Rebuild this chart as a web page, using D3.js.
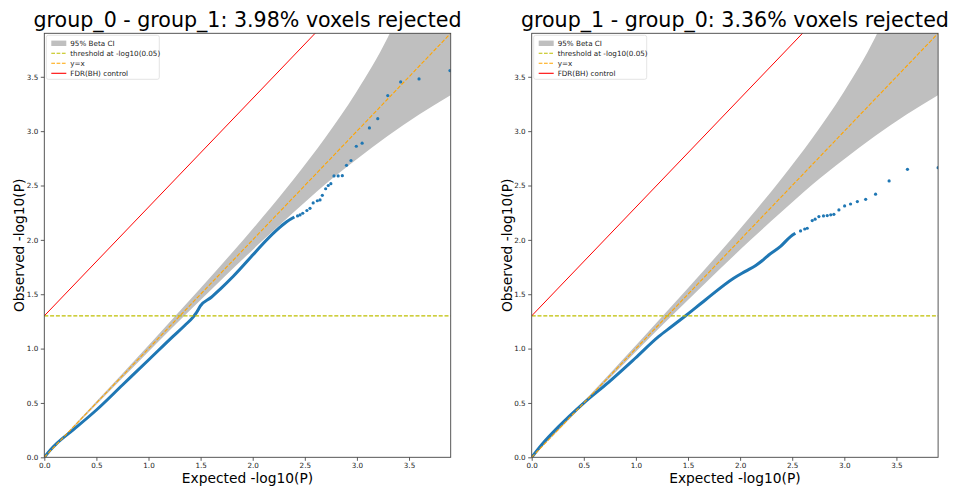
<!DOCTYPE html>
<html>
<head>
<meta charset="utf-8">
<script src="https://cdn.jsdelivr.net/npm/d3@7"></script>
<style>
  body { margin: 0; background: #fff; }
  svg { font-family: "DejaVu Sans", sans-serif; }
</style>
</head>
<body>
<div id="chart"></div>
<script>
// axis range and ticks
const maxLog = 3.9;
const tickVals = [0, 0.5, 1.0, 1.5, 2.0, 2.5, 3.0, 3.5];
const threshold = 0.05;

// 95% beta CI band (same in both panels)
const bandX  = [0, 0.286, 0.587, 0.888, 1.189, 1.49, 1.791, 2.092, 2.393, 2.694, 2.995, 3.295, 3.597, 3.898];
const bandLo = [0, 0.277, 0.571, 0.863, 1.154, 1.438, 1.718, 1.991, 2.253, 2.509, 2.739, 2.955, 3.152, 3.33];
const bandHi = [0, 0.295, 0.603, 0.913, 1.228, 1.545, 1.869, 2.205, 2.558, 2.937, 3.36, 3.86, 4.51, 5.49];

// panel 1: group_0 - group_1
const dense0 = [[0,0],[0.06,0.07],[0.12,0.128],[0.28,0.255],[0.5,0.435],[0.75,0.665],[1.0,0.895],[1.238,1.115],
  [1.35,1.215],[1.43,1.292],[1.46,1.33],[1.50,1.395],[1.6,1.47],[1.686,1.545],[1.814,1.665],[2.0,1.86],[2.07,1.935],
  [2.23,2.09],[2.326,2.167],[2.40,2.21]];
const tail0 = [[2.43,2.22],[2.454,2.229],[2.48,2.245],[2.52,2.27],[2.55,2.29],[2.58,2.34],[2.62,2.36],[2.646,2.367],
  [2.668,2.41],[2.70,2.47],[2.725,2.50],[2.75,2.517],[2.78,2.588],[2.82,2.588],[2.86,2.59],[2.90,2.686],
  [2.943,2.73],[2.994,2.861],[3.05,2.889],[3.12,3.03],[3.20,3.115],[3.296,3.327],[3.42,3.453],[3.596,3.48],[3.893,3.557]];

// panel 2: group_1 - group_0
const dense1 = [[0,0],[0.1,0.12],[0.256,0.28],[0.496,0.497],[0.737,0.69],[0.993,0.911],[1.217,1.11],[1.346,1.205],
  [1.474,1.30],[1.666,1.447],[1.938,1.647],[2.05,1.71],[2.15,1.765],[2.22,1.815],[2.275,1.861],[2.388,1.94],[2.484,2.03],[2.53,2.06]];
const tail1 = [[2.58,2.082],[2.62,2.10],[2.644,2.107],[2.692,2.177],[2.72,2.19],[2.756,2.214],[2.80,2.22],[2.836,2.223],
  [2.87,2.23],[2.90,2.235],[2.948,2.275],[3.003,2.312],[3.06,2.33],[3.125,2.352],[3.205,2.373],[3.30,2.42],
  [3.43,2.542],[3.606,2.649],[3.90,2.664]];

const titles = ["group_0 - group_1: 3.98% voxels rejected", "group_1 - group_0: 3.36% voxels rejected"];
const legendLabels = ["95% Beta CI", "threshold at -log10(0.05)", "y=x", "FDR(BH) control"];

const W = 954, H = 489;
const svg = d3.select("#chart").append("svg").attr("width", W).attr("height", H);

const panelW = 406.4, panelH = 424;
const panels = [
  {left: 44.3, top: 33.3, dense: dense0, tail: tail0, title: titles[0]},
  {left: 531.7, top: 33.3, dense: dense1, tail: tail1, title: titles[1]}
];

panels.forEach((p, idx) => {
  const g = svg.append("g").attr("transform", `translate(${p.left}, ${p.top})`);
  const x = d3.scaleLinear().domain([0, maxLog]).range([0, panelW]);
  const y = d3.scaleLinear().domain([0, maxLog]).range([panelH, 0]);

  const clipId = "clip" + idx;
  g.append("clipPath").attr("id", clipId)
    .append("rect").attr("width", panelW).attr("height", panelH);
  const plot = g.append("g").attr("clip-path", `url(#${clipId})`);

  // CI band
  const band = bandX.map((v, i) => [v, bandLo[i], bandHi[i]]);
  plot.append("path")
    .datum(band)
    .attr("fill", "#bfbfbf")
    .attr("d", d3.area().curve(d3.curveMonotoneX)
      .x(d => x(d[0])).y0(d => y(d[1])).y1(d => y(d[2])));

  // observed values: dense part drawn as thick run of points, tail as single dots
  plot.append("path")
    .datum(p.dense)
    .attr("fill", "none")
    .attr("stroke", "#1f77b4")
    .attr("stroke-width", 3)
    .attr("stroke-linejoin", "round")
    .attr("d", d3.line().curve(d3.curveMonotoneX).x(d => x(d[0])).y(d => y(d[1])));
  plot.selectAll("circle.tail")
    .data(p.tail)
    .join("circle")
    .attr("class", "tail")
    .attr("cx", d => x(d[0]))
    .attr("cy", d => y(d[1]))
    .attr("r", 1.6)
    .attr("fill", "#1f77b4");

  const thr = -Math.log10(threshold);
  // threshold
  plot.append("line")
    .attr("x1", x(0)).attr("x2", x(maxLog))
    .attr("y1", y(thr)).attr("y2", y(thr))
    .attr("stroke", "#bfbf00").attr("stroke-width", 1.1)
    .attr("stroke-dasharray", "4,1.8");
  // y=x
  plot.append("line")
    .attr("x1", x(0)).attr("x2", x(maxLog))
    .attr("y1", y(0)).attr("y2", y(maxLog))
    .attr("stroke", "#ffa500").attr("stroke-width", 1.1)
    .attr("stroke-dasharray", "4,1.8");
  // FDR(BH)
  plot.append("line")
    .attr("x1", x(0)).attr("x2", x(maxLog))
    .attr("y1", y(thr)).attr("y2", y(maxLog + thr))
    .attr("stroke", "red").attr("stroke-width", 1);

  // axes
  const xAxis = d3.axisBottom(x).tickValues(tickVals).tickFormat(d3.format(".1f"))
    .tickSize(3.5).tickPadding(2.5).tickSizeOuter(0);
  const yAxis = d3.axisLeft(y).tickValues(tickVals).tickFormat(d3.format(".1f"))
    .tickSize(3.5).tickPadding(2.5).tickSizeOuter(0);
  g.append("g").attr("transform", `translate(0, ${panelH})`).call(xAxis)
    .call(a => a.select(".domain").remove());
  g.append("g").call(yAxis)
    .call(a => a.select(".domain").remove());
  g.selectAll(".tick text").attr("font-size", 7.2).attr("fill", "#222").attr("font-family", "DejaVu Sans");
  g.selectAll(".tick line").attr("stroke", "#333").attr("stroke-width", 0.8);

  g.append("rect")
    .attr("width", panelW).attr("height", panelH)
    .attr("fill", "none").attr("stroke", "#444").attr("stroke-width", 0.9);

  // labels
  g.append("text")
    .attr("x", panelW / 2).attr("y", -6.8)
    .attr("text-anchor", "middle")
    .attr("font-size", 20.6)
    .text(p.title);
  g.append("text")
    .attr("x", panelW / 2).attr("y", panelH + 26)
    .attr("text-anchor", "middle")
    .attr("font-size", 13.8)
    .text("Expected -log10(P)");
  g.append("text")
    .attr("transform", `translate(-20, ${panelH / 2}) rotate(-90)`)
    .attr("text-anchor", "middle")
    .attr("font-size", 13.8)
    .text("Observed -log10(P)");

  // legend
  const lg = g.append("g").attr("transform", "translate(2, 2)");
  lg.append("rect")
    .attr("width", 113).attr("height", 44).attr("rx", 2)
    .attr("fill", "white").attr("fill-opacity", 0.8)
    .attr("stroke", "#ddd").attr("stroke-width", 0.8);
  const styles = [
    {type: "patch", color: "#bfbfbf"},
    {type: "dash", color: "#bfbf00"},
    {type: "dash", color: "#ffa500"},
    {type: "line", color: "red"}
  ];
  legendLabels.forEach((lab, i) => {
    const cy = 8 + i * 10;
    const s = styles[i];
    if (s.type === "patch") {
      lg.append("rect").attr("x", 5).attr("y", cy - 2.7).attr("width", 15).attr("height", 5.4).attr("fill", s.color);
    } else {
      lg.append("line").attr("x1", 5).attr("x2", 20).attr("y1", cy).attr("y2", cy)
        .attr("stroke", s.color).attr("stroke-width", 1.1)
        .attr("stroke-dasharray", s.type === "dash" ? "3.7,1.6" : null);
    }
    lg.append("text").attr("x", 24).attr("y", cy + 2.5)
      .attr("font-size", 7.2).attr("fill", "#222")
      .text(lab);
  });
});
</script>
</body>
</html>
